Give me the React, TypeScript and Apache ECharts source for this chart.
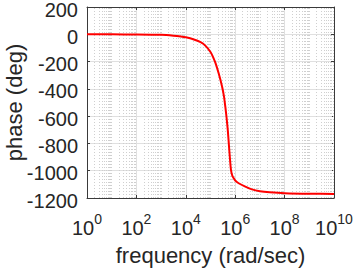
import React, { useEffect, useRef } from "react";
import * as echarts from "echarts";

// log10 of frequency (rad/sec)
const logFreq = [
  0, 1, 2, 3, 3.5, 3.8, 4.0, 4.3, 4.6, 4.8, 5.0, 5.1, 5.2, 5.33, 5.47, 5.55,
  5.6, 5.65, 5.7, 5.76, 5.8, 5.83, 5.88, 5.94, 6.0, 6.14, 6.41, 6.68, 7.0, 7.4,
  8, 9, 10,
];
// phase (deg)
const phaseDeg = [
  0, -0.5, -1, -4, -10, -16, -22, -36, -58, -85, -130, -165, -210, -286, -384,
  -460, -531, -610, -702, -848, -940, -995, -1035, -1056, -1072, -1092, -1117,
  -1137, -1150, -1158, -1165, -1169, -1170,
];

const yMin = -1200;
const yMax = 200;
const yStep = 200;
const xDecMin = 0;
const xDecMax = 10;
const xDecStep = 2;
const minorMult = [2, 3, 4, 5, 6, 7, 8, 9];

const FONT = "'Liberation Sans', Arial, Helvetica, sans-serif";
const TXT = "#262626";
const AX = "#3a3a3a";

export default function App() {
  const ref = useRef<HTMLDivElement>(null);
  useEffect(() => {
    if (!ref.current) return;
    const chart = echarts.init(ref.current, undefined, { renderer: "svg" });
    const minorPos: number[] = [];
    for (let n = xDecMin; n < xDecMax; n++) {
      if (n % xDecStep !== 0) minorPos.push(n);
      for (const m of minorMult) minorPos.push(n + Math.log10(m));
    }
    const data = logFreq.map((x, i) => [x, phaseDeg[i]]);
    const axLine = { show: true, onZero: false, lineStyle: { color: AX, width: 1 } };
    const axTick = { show: true, inside: true, length: 3, lineStyle: { color: AX } };
    const option: any = {
      animation: false,
      grid: {
        left: 87,
        right: 20,
        top: 7,
        bottom: 71,
        containLabel: false,
        outerBoundsMode: "none",
      },
      xAxis: [
        {
          type: "value",
          min: xDecMin,
          max: xDecMax,
          interval: xDecStep,
          position: "bottom",
          name: "frequency (rad/sec)",
          nameLocation: "middle",
          nameGap: 46,
          nameMoveOverlap: false,
          nameTextStyle: { fontSize: 22, color: TXT, fontFamily: FONT },
          axisLine: axLine,
          axisTick: axTick,
          splitLine: { show: true, lineStyle: { color: "#e0e0e0", width: 1 } },
          axisLabel: {
            margin: 14,
            formatter: (v: number) => `{b|10}{s|${v}}`,
            rich: {
              b: { fontSize: 20, color: TXT, fontFamily: FONT, lineHeight: 26, verticalAlign: "bottom" },
              s: { fontSize: 14, color: TXT, fontFamily: FONT, lineHeight: 14, verticalAlign: "top" },
            },
          },
        },
        {
          type: "value",
          min: xDecMin,
          max: xDecMax,
          interval: xDecStep,
          position: "top",
          axisLine: axLine,
          axisTick: axTick,
          axisLabel: { show: false },
          splitLine: { show: false },
        },
      ],
      yAxis: [
        {
          type: "value",
          min: yMin,
          max: yMax,
          interval: yStep,
          position: "left",
          name: "phase (deg)",
          nameLocation: "middle",
          nameGap: 62,
          nameMoveOverlap: false,
          nameTextStyle: { fontSize: 22, color: TXT, fontFamily: FONT },
          axisLine: axLine,
          axisTick: axTick,
          splitLine: { show: true, lineStyle: { color: "#e0e0e0", width: 1 } },
          axisLabel: {
            fontSize: 20,
            lineHeight: 5,
            verticalAlign: "top",
            color: TXT,
            fontFamily: FONT,
            margin: 9,
            formatter: (v: number) => String(v),
          },
        },
        {
          type: "value",
          min: yMin,
          max: yMax,
          interval: yStep,
          position: "right",
          axisLine: axLine,
          axisTick: axTick,
          axisLabel: { show: false },
          splitLine: { show: false },
        },
      ],
      series: [
        {
          type: "line",
          data: [],
          xAxisIndex: 0,
          yAxisIndex: 0,
          silent: true,
          markLine: {
            silent: true,
            symbol: "none",
            label: { show: false },
            lineStyle: { color: "#cfcfcf", type: [1, 2], width: 1 },
            data: minorPos.map((p) => ({ xAxis: p })),
          },
        },
        {
          type: "line",
          data,
          xAxisIndex: 0,
          yAxisIndex: 0,
          showSymbol: false,
          smooth: 0.2,
          lineStyle: { color: "#ff0000", width: 2 },
          z: 5,
        },
      ],
    };
    chart.setOption(option);
    return () => chart.dispose();
  }, []);
  return (
    <div
      ref={ref}
      style={{ position: "fixed", left: 0, top: 0, width: 354, height: 269, background: "#fff" }}
    />
  );
}
